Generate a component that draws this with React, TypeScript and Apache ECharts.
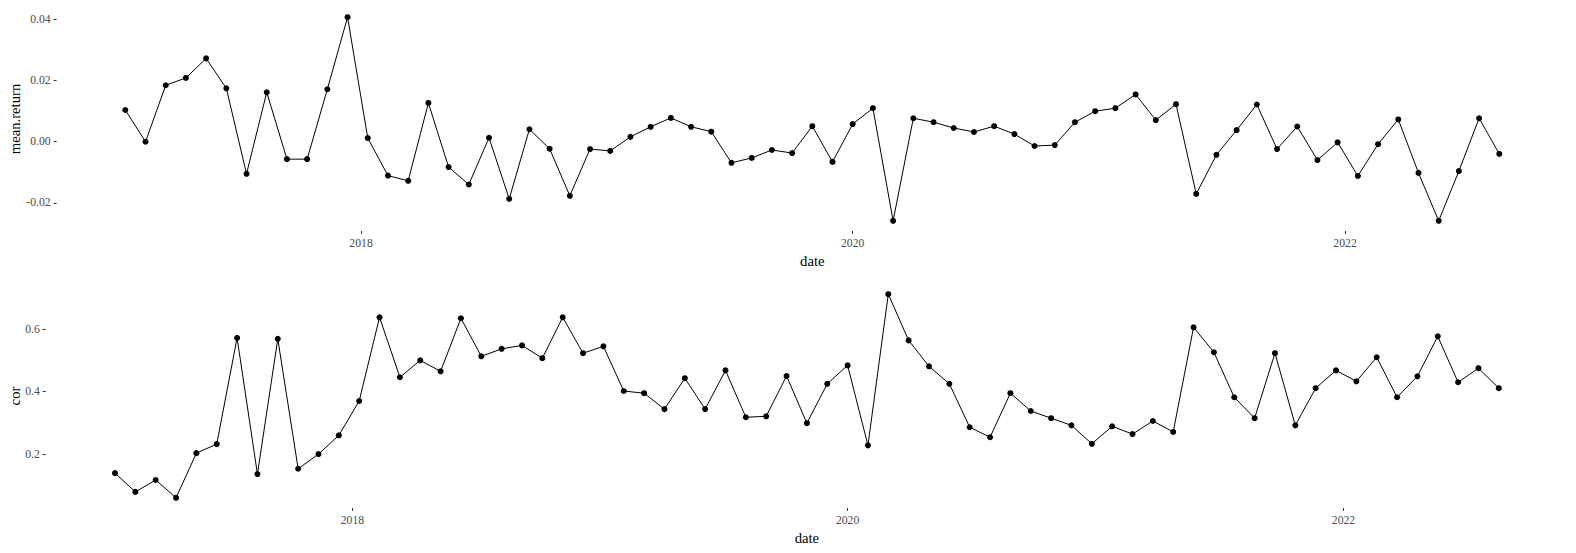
import React, { useEffect, useRef } from 'react';
import * as echarts from 'echarts';

const dates = [
  '2017-01-16', '2017-02-15', '2017-03-17', '2017-04-16', '2017-05-16', '2017-06-15', '2017-07-15', '2017-08-14',
  '2017-09-13', '2017-10-13', '2017-11-12', '2017-12-12', '2018-01-11', '2018-02-10', '2018-03-12', '2018-04-11',
  '2018-05-11', '2018-06-10', '2018-07-10', '2018-08-09', '2018-09-08', '2018-10-08', '2018-11-07', '2018-12-07',
  '2019-01-06', '2019-02-05', '2019-03-07', '2019-04-06', '2019-05-06', '2019-06-05', '2019-07-05', '2019-08-04',
  '2019-09-03', '2019-10-03', '2019-11-02', '2019-12-02', '2020-01-01', '2020-01-31', '2020-03-01', '2020-03-31',
  '2020-04-30', '2020-05-30', '2020-06-29', '2020-07-29', '2020-08-28', '2020-09-27', '2020-10-27', '2020-11-26',
  '2020-12-26', '2021-01-25', '2021-02-24', '2021-03-26', '2021-04-25', '2021-05-25', '2021-06-24', '2021-07-24',
  '2021-08-23', '2021-09-22', '2021-10-22', '2021-11-21', '2021-12-21', '2022-01-20', '2022-02-19', '2022-03-21',
  '2022-04-20', '2022-05-20', '2022-06-19', '2022-07-19', '2022-08-18',
];

const meanReturn = [
  0.0104, 0.0000, 0.0185, 0.0209, 0.0273, 0.0175, -0.0105, 0.0162, -0.0057, -0.0057,
  0.0172, 0.0408, 0.0012, -0.0111, -0.0128, 0.0127, -0.0083, -0.0140, 0.0013, -0.0187,
  0.0041, -0.0023, -0.0177, -0.0024, -0.0030, 0.0016, 0.0049, 0.0078, 0.0049, 0.0033,
  -0.0069, -0.0053, -0.0027, -0.0037, 0.0051, -0.0066, 0.0058, 0.0110, -0.0259, 0.0077,
  0.0064, 0.0045, 0.0032, 0.0051, 0.0025, -0.0014, -0.0011, 0.0064, 0.0100, 0.0110,
  0.0155, 0.0071, 0.0123, -0.0171, -0.0043, 0.0038, 0.0122, -0.0024, 0.0050, -0.0060,
  -0.0002, -0.0112, -0.0008, 0.0073, -0.0102, -0.0259, -0.0096, 0.0077, -0.0040,
];

const cor = [
  0.139, 0.079, 0.117, 0.060, 0.203, 0.232, 0.572, 0.136, 0.569, 0.153,
  0.200, 0.260, 0.370, 0.638, 0.446, 0.500, 0.465, 0.635, 0.513, 0.537,
  0.548, 0.507, 0.638, 0.523, 0.545, 0.402, 0.395, 0.344, 0.443, 0.344,
  0.468, 0.318, 0.321, 0.450, 0.299, 0.425, 0.484, 0.228, 0.712, 0.564,
  0.481, 0.425, 0.286, 0.254, 0.395, 0.338, 0.315, 0.292, 0.233, 0.289,
  0.264, 0.306, 0.271, 0.606, 0.526, 0.382, 0.315, 0.523, 0.292, 0.411,
  0.468, 0.433, 0.510, 0.382, 0.449, 0.577, 0.430, 0.475, 0.411,
];

const xTickDates = ['2018-01-01', '2020-01-01', '2022-01-01'];
const meanReturnTicks = [-0.02, 0, 0.02, 0.04];
const corTicks = [0.2, 0.4, 0.6];

const FONT = '"Liberation Serif", "Times New Roman", serif';

function expand(lo: number, hi: number, f = 0.05): [number, number] {
  const d = (hi - lo) * f;
  return [lo - d, hi + d];
}

export default function App() {
  const ref = useRef<HTMLDivElement>(null);
  useEffect(() => {
    if (!ref.current) return;
    const chart = echarts.init(ref.current, null, { renderer: 'svg' });
    const times = dates.map((d) => Date.parse(d));
    const xTicks = xTickDates.map((d) => Date.parse(d));
    const [xMin, xMax] = expand(times[0], times[times.length - 1]);
    const [mrMin, mrMax] = expand(Math.min(...meanReturn), Math.max(...meanReturn));
    const [cMin, cMax] = expand(Math.min(...cor), Math.max(...cor));

    const xAxis = (gridIndex: number) => ({
      type: 'value',
      gridIndex,
      min: xMin,
      max: xMax,
      axisLine: { show: false, onZero: false },
      axisTick: { show: true, length: 3, lineStyle: { color: '#333333', width: 1 }, customValues: xTicks },
      axisLabel: {
        customValues: xTicks,
        formatter: (v: number) => String(new Date(v).getUTCFullYear()),
        color: '#4D4D4D',
        fontFamily: FONT,
        fontSize: 11.7,
        margin: 6,
        hideOverlap: false,
      },
      splitLine: { show: false },
      name: 'date',
      nameLocation: 'middle',
      nameGap: 22,
      nameMoveOverlap: false,
      nameTextStyle: { color: '#000', fontFamily: FONT, fontSize: 14.7 },
    });

    const yAxis = (gridIndex: number, name: string, lo: number, hi: number, ticks: number[], digits: number, gap: number) => ({
      type: 'value',
      gridIndex,
      min: lo,
      max: hi,
      axisLine: { show: false, onZero: false },
      axisTick: { show: true, length: 3, lineStyle: { color: '#333333', width: 1 }, customValues: ticks },
      axisLabel: {
        customValues: ticks,
        formatter: (v: number) => v.toFixed(digits),
        color: '#4D4D4D',
        fontFamily: FONT,
        fontSize: 11.7,
        margin: 6,
      },
      splitLine: { show: false },
      name,
      nameLocation: 'middle',
      nameGap: gap,
      nameMoveOverlap: false,
      nameTextStyle: { color: '#000', fontFamily: FONT, fontSize: 14.7 },
    });

    const series = (idx: number, values: number[]) => ({
      type: 'line',
      xAxisIndex: idx,
      yAxisIndex: idx,
      data: times.map((t, i) => [t, values[i]]),
      symbol: 'circle',
      symbolSize: 6,
      showAllSymbol: true,
      itemStyle: { color: '#000' },
      lineStyle: { color: '#000', width: 1 },
      emphasis: { disabled: true },
      silent: true,
    });

    chart.setOption({
      animation: false,
      backgroundColor: '#fff',
      grid: [
        { left: 56.6, right: 8, top: 7, height: 224, containLabel: false, outerBoundsMode: 'none' },
        { left: 45.8, right: 8, top: 284, height: 224, containLabel: false, outerBoundsMode: 'none' },
      ],
      xAxis: [xAxis(0), xAxis(1)],
      yAxis: [
        yAxis(0, 'mean.return', mrMin, mrMax, meanReturnTicks, 2, 34),
        yAxis(1, 'cor', cMin, cMax, corTicks, 1, 23),
      ],
      series: [series(0, meanReturn), series(1, cor)],
    });
    return () => chart.dispose();
  }, []);
  return <div ref={ref} style={{ position: 'absolute', left: 0, top: 0, width: 1576, height: 553 }} />;
}
